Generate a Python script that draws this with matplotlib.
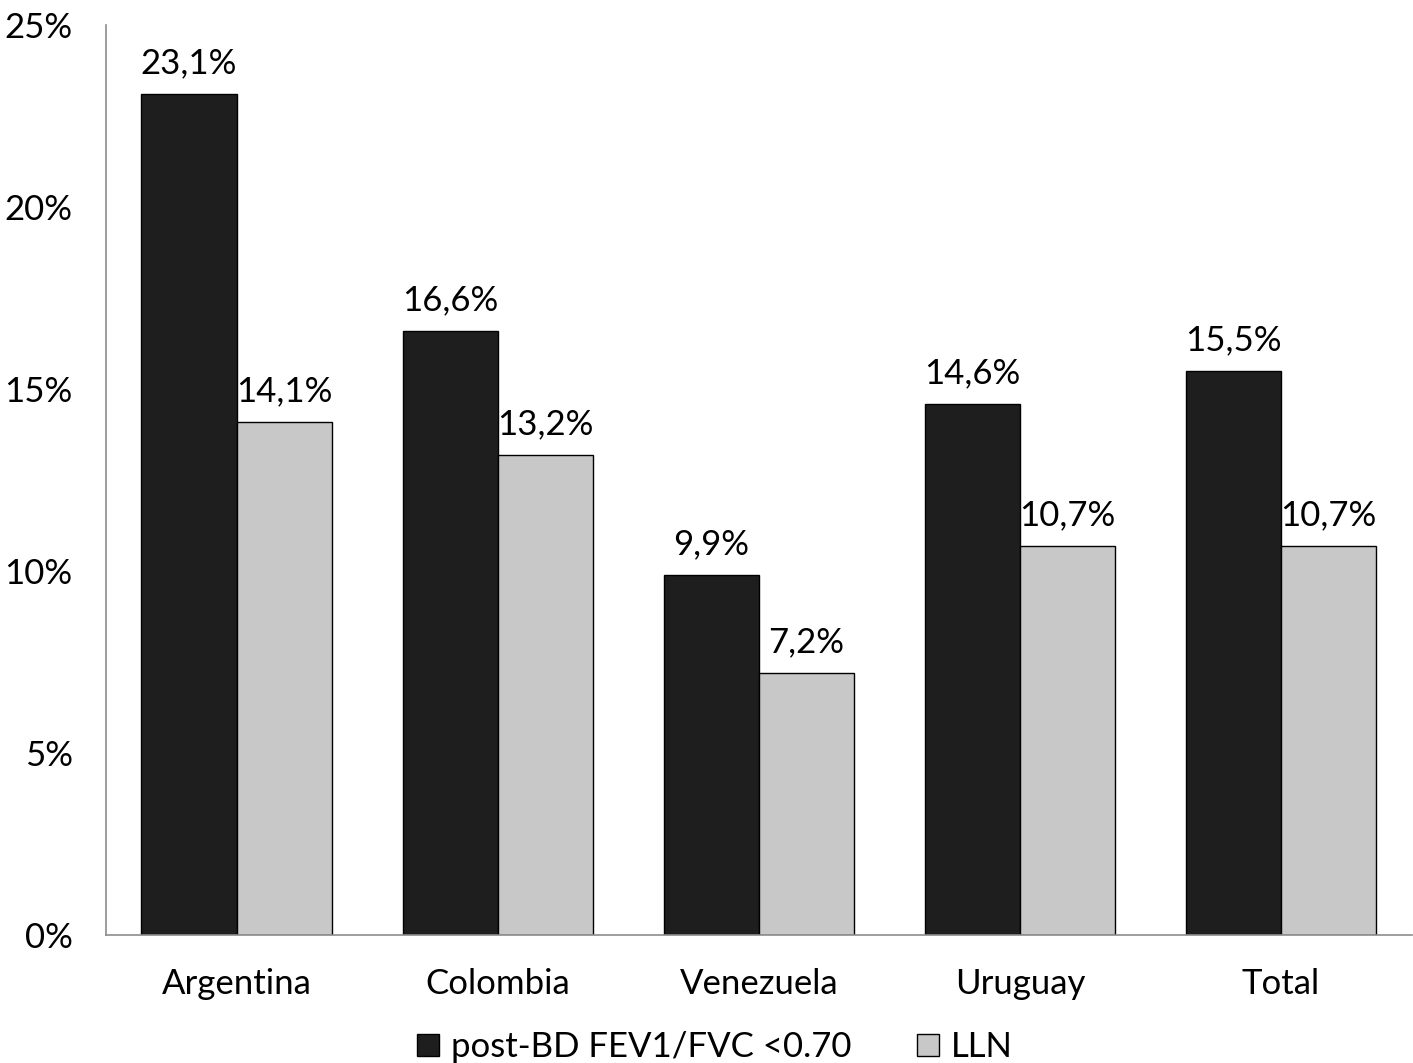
import numpy as np
import matplotlib
matplotlib.use('Agg')
import matplotlib.pyplot as plt
from matplotlib.patches import Patch

plt.rcParams['font.family'] = ['Lato', 'DejaVu Sans']

countries = ['Argentina', 'Colombia', 'Venezuela', 'Uruguay', 'Total']
post_bd = [23.1, 16.6, 9.9, 14.6, 15.5]
lln = [14.1, 13.2, 7.2, 10.7, 10.7]
yticks = [0, 5, 10, 15, 20, 25]

fs = 25
bw = 0.364
x = np.arange(len(countries))

fig = plt.figure(figsize=(14.13, 10.63), dpi=100)
ax = fig.add_axes([0.075, 0.1204, 0.924, 0.8561])

ax.bar(x - bw / 2, post_bd, bw, color='#1e1e1e', edgecolor='#000000', linewidth=1)
ax.bar(x + bw / 2, lln, bw, color='#c8c8c8', edgecolor='#000000', linewidth=1)

for i in range(len(countries)):
    ax.text(x[i] - bw / 2, post_bd[i] + 0.4, f'{post_bd[i]:.1f}%'.replace('.', ','),
            ha='center', va='bottom', fontsize=fs)
    ax.text(x[i] + bw / 2, lln[i] + 0.4, f'{lln[i]:.1f}%'.replace('.', ','),
            ha='center', va='bottom', fontsize=fs)

ax.set_xlim(-0.5, len(countries) - 0.5)
ax.set_ylim(0, 25)
ax.set_yticks(yticks)
ax.set_yticklabels([f'{t}%' for t in yticks], fontsize=fs)
ax.set_xticks(x)
ax.set_xticklabels(countries, fontsize=fs)
ax.tick_params(axis='both', length=0)
ax.tick_params(axis='y', pad=24)
ax.tick_params(axis='x', pad=24)

for s in ['top', 'right']:
    ax.spines[s].set_visible(False)
for s in ['left', 'bottom']:
    ax.spines[s].set_color('#8c8c8c')
    ax.spines[s].set_linewidth(1.2)

handles = [Patch(facecolor='#1e1e1e', edgecolor='#000000', label='post-BD FEV1/FVC <0.70'),
           Patch(facecolor='#c8c8c8', edgecolor='#000000', label='LLN')]
fig.legend(handles=handles, loc='center', bbox_to_anchor=(0.506, 0.015), ncol=2,
           frameon=False, fontsize=fs, handlelength=0.62, handleheight=0.62,
           handletextpad=0.35, columnspacing=1.9, borderpad=0)

fig.savefig('out.png', dpi=100)
